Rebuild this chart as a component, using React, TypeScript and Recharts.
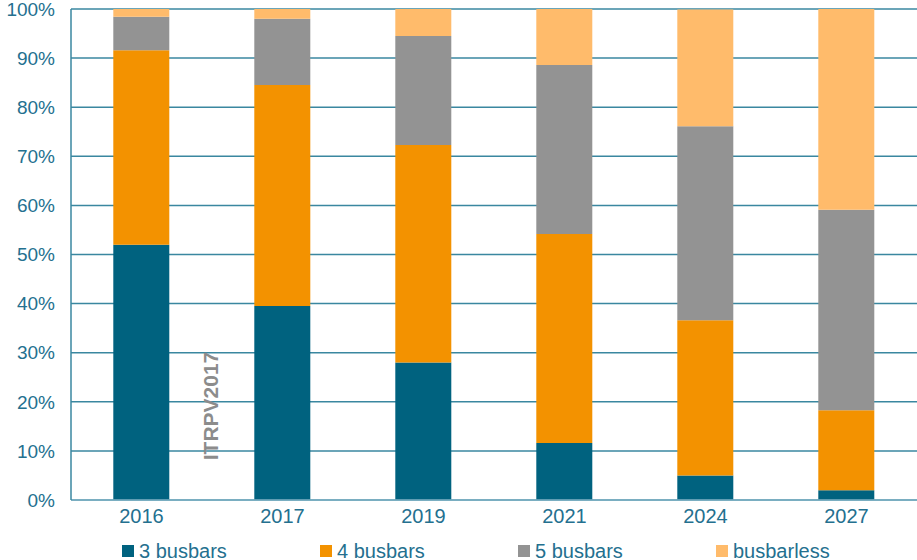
import React from 'react';
import { BarChart, Bar, XAxis, YAxis, CartesianGrid, Legend } from 'recharts';

const years = ['2016', '2017', '2019', '2021', '2024', '2027'];
const busbars3 = [52, 39.5, 28, 11.6, 5, 2];
const busbars4 = [39.6, 45, 44.3, 42.6, 31.6, 16.3];
const busbars5 = [6.8, 13.5, 22.2, 34.4, 39.5, 40.8];
const busbarless = [1.6, 2, 5.5, 11.4, 23.8, 40.9];
const yTicks = [0, 10, 20, 30, 40, 50, 60, 70, 80, 90, 100];

const seriesNames = ['3 busbars', '4 busbars', '5 busbars', 'busbarless'];
const seriesColors = ['#00627f', '#f39200', '#939393', '#ffbb6b'];
const seriesKeys = ['b3', 'b4', 'b5', 'bl'];

const data = years.map((y, i) => ({
  year: y,
  b3: busbars3[i],
  b4: busbars4[i],
  b5: busbars5[i],
  bl: busbarless[i],
}));

const textColor = '#24708f';
const font = '"Liberation Sans", Arial, sans-serif';

const renderLegend = () => (
  <div style={{ position: 'relative', width: 917, height: 30 }}>
    {seriesNames.map((n, i) => (
      <div
        key={n}
        style={{
          position: 'absolute',
          left: 122 + i * 198,
          top: 11,
          height: 20,
          display: 'flex',
          alignItems: 'center',
          fontFamily: font,
          fontSize: 20,
          color: textColor,
          whiteSpace: 'nowrap',
        }}
      >
        <span style={{ display: 'inline-block', width: 12, height: 12, background: seriesColors[i], marginRight: 5 }} />
        <span>{n}</span>
      </div>
    ))}
  </div>
);

export default function App() {
  return (
    <div style={{ position: 'absolute', left: 0, top: 0, width: 917, height: 560, fontFamily: font }}>
      <BarChart
        width={917}
        height={560}
        data={data}
        margin={{ top: 9, right: 0, bottom: 0, left: 0 }}
        barCategoryGap="30%"
      >
        <CartesianGrid vertical={false} stroke="#3a87a0" strokeWidth={1.5} />
        <XAxis
          dataKey="year"
          height={30}
          tickLine={false}
          tickSize={9}
          tickMargin={0}
          axisLine={{ stroke: '#7fb2c4', strokeWidth: 1.5 }}
          tick={{ fill: textColor, fontSize: 20, fontFamily: font }}
        />
        <YAxis
          width={71}
          domain={[0, 100]}
          ticks={yTicks}
          interval={0}
          tickFormatter={(v: number) => `${v}%`}
          tickLine={false}
          tickSize={8}
          tickMargin={8}
          axisLine={{ stroke: '#3a87a0', strokeWidth: 1.5 }}
          tick={{ fill: textColor, fontSize: 19, fontFamily: font }}
        />
        <Legend verticalAlign="bottom" height={30} content={renderLegend} wrapperStyle={{ left: 0, bottom: 0, width: 917 }} />
        {seriesKeys.map((k, i) => (
          <Bar key={k} dataKey={k} name={seriesNames[i]} stackId="a" fill={seriesColors[i]} isAnimationActive={false} />
        ))}
      </BarChart>
      <svg style={{ position: 'absolute', left: 0, top: 0, pointerEvents: 'none' }} width={917} height={560}>
        <text
          x={218}
          y={406}
          transform="rotate(-90 218 406)"
          textAnchor="middle"
          fontFamily={font}
          fontWeight="bold"
          fontSize={21}
          fill="#8c8c8c"
        >
          ITRPV2017
        </text>
      </svg>
    </div>
  );
}
